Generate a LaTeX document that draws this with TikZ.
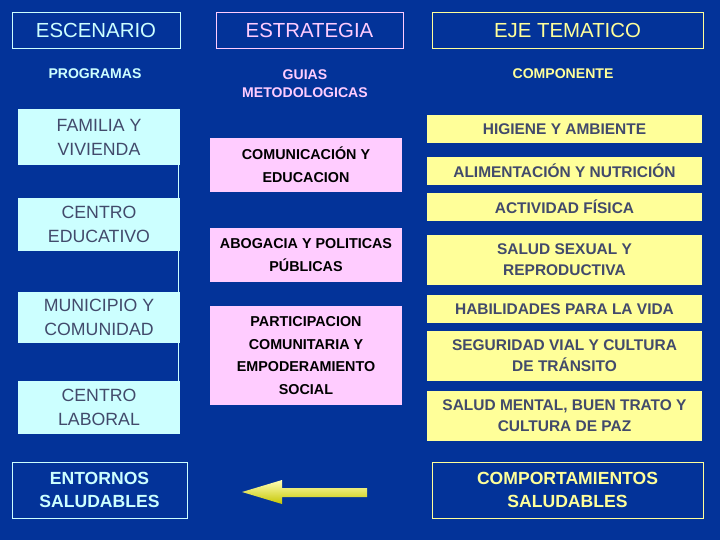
\documentclass[tikz,border=0pt]{standalone}
\usepackage{fontspec}
\setmainfont{Liberation Sans}
\usepackage{xcolor}
\usepackage{tikz}
\definecolor{fondo}{RGB}{3,51,153}
\definecolor{celeste}{RGB}{204,255,255}
\definecolor{rosa}{RGB}{255,204,255}
\definecolor{amarillo}{RGB}{255,255,153}
\definecolor{pizarra}{RGB}{66,74,107}
\tikzstyle{titulo} = [rectangle, minimum height=0.9cm, text centered, line width=0.6pt, font=\fontsize{14.5}{17}\selectfont]
\tikzstyle{subtitulo} = [align=center, font=\bfseries\fontsize{10}{12.8}\selectfont]
\tikzstyle{escena} = [rectangle, fill=celeste, text=pizarra, minimum width=4.05cm, align=center, font=\fontsize{12.6}{17.2}\selectfont]
\tikzstyle{guia} = [rectangle, fill=rosa, text=black, minimum width=4.8cm, align=center, font=\bfseries\fontsize{10.2}{16.2}\selectfont]
\tikzstyle{tema} = [rectangle, fill=amarillo, text=pizarra, minimum width=6.875cm, align=center, font=\bfseries\fontsize{11}{15}\selectfont]
\tikzstyle{final} = [rectangle, minimum height=1.4cm, align=center, line width=0.6pt, font=\bfseries\fontsize{12.5}{16.5}\selectfont]

\begin{document}
\begin{tikzpicture}[x=0.025cm, y=-0.025cm]
	\fill[fondo] (0,0) rectangle (720,540);
	% encabezados
	\node (escenario) [titulo, draw=celeste, text=celeste, minimum width=4.2cm] at (96,30) {ESCENARIO};
	\node (estrategia) [titulo, draw=rosa, text=rosa, minimum width=4.675cm] at (309.5,30) {ESTRATEGIA};
	\node (eje) [titulo, draw=amarillo, text=amarillo, minimum width=6.775cm] at (567.5,30) {EJE TEMATICO};
	\node (programas) [subtitulo, text=celeste] at (95,74) {PROGRAMAS};
	\node (guias) [subtitulo, text=rosa] at (305,84) {GUIAS\\METODOLOGICAS};
	\node (componente) [subtitulo, text=amarillo] at (563,74) {COMPONENTE};
	% escenarios
	\node (familia) [escena, minimum height=1.4cm] at (99,137) {FAMILIA Y\\VIVIENDA};
	\node (educativo) [escena, minimum height=1.325cm] at (99,224.5) {CENTRO\\EDUCATIVO};
	\node (municipio) [escena, minimum height=1.275cm] at (99,317.5) {MUNICIPIO Y\\COMUNIDAD};
	\node (laboral) [escena, minimum height=1.325cm] at (99,407.5) {CENTRO\\LABORAL};
	\draw[celeste, line width=0.5pt] ([xshift=-0.05cm]familia.north east) -- ([xshift=-0.05cm]laboral.south east);
	% estrategias
	\node (comunicacion) [guia, minimum height=1.35cm] at (306,165) {COMUNICACIÓN Y\\EDUCACION};
	\node (abogacia) [guia, minimum height=1.35cm] at (306,255) {ABOGACIA Y POLITICAS\\PÚBLICAS};
	\node (participacion) [guia, minimum height=2.475cm] at (306,355.5) {PARTICIPACION\\COMUNITARIA Y\\EMPODERAMIENTO\\SOCIAL};
	% componentes
	\node (higiene) [tema, minimum height=0.7cm] at (564.5,129) {HIGIENE Y AMBIENTE};
	\node (alimentacion) [tema, minimum height=0.7cm] at (564.5,171) {ALIMENTACIÓN Y NUTRICIÓN};
	\node (actividad) [tema, minimum height=0.7cm] at (564.5,207) {ACTIVIDAD FÍSICA};
	\node (sexual) [tema, minimum height=1.25cm] at (564.5,260) {SALUD SEXUAL Y\\REPRODUCTIVA};
	\node (habilidades) [tema, minimum height=0.7cm] at (564.5,309) {HABILIDADES PARA LA VIDA};
	\node (seguridad) [tema, minimum height=1.25cm] at (564.5,356) {SEGURIDAD VIAL Y CULTURA\\DE TRÁNSITO};
	\node (mental) [tema, minimum height=1.25cm] at (564.5,416) {SALUD MENTAL, BUEN TRATO Y\\CULTURA DE PAZ};
	% resultados
	\node (entornos) [final, draw=celeste, text=celeste, minimum width=4.375cm] at (99.5,490) {ENTORNOS\\SALUDABLES};
	\node (comportamientos) [final, draw=amarillo, text=amarillo, minimum width=6.775cm] at (567.5,490) {COMPORTAMIENTOS\\SALUDABLES};
	\coordinate (punta) at (242,492);
	\coordinate (cola) at (367,492.5);
	\shade[top color=amarillo!70!white, bottom color=yellow!55!olive] (punta) -- (282,480) -- (282,488) -- (cola |- 0,488) -- (cola |- 0,497) -- (282,497) -- (282,504) -- cycle;
\end{tikzpicture}
\end{document}
